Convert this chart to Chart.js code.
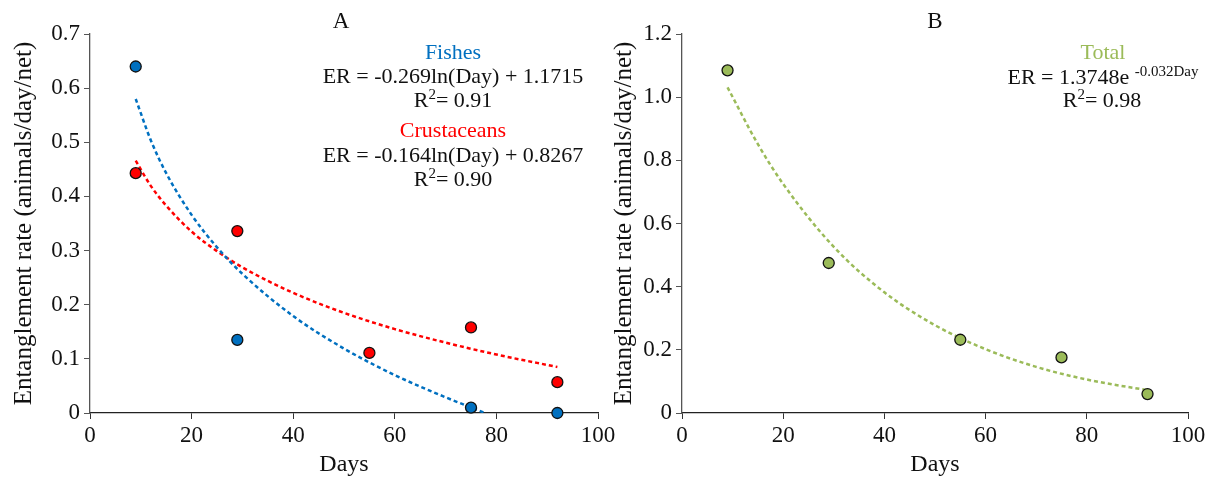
<!DOCTYPE html>
<html>
<head>
<meta charset="utf-8">
<script src="https://cdn.jsdelivr.net/npm/chart.js@4.4.1/dist/chart.umd.min.js"></script>
<style>
body{margin:0;background:#fff;width:1210px;height:479px;position:relative;overflow:hidden}
canvas{position:absolute;top:0}
#chartA{left:0}
#chartB{left:600px}
</style>
</head>
<body>
<canvas id="chartA" width="620" height="479"></canvas>
<canvas id="chartB" width="610" height="479"></canvas>
<script>
// sampled days and entanglement rates (animals/day/net)
var sampleDays = [9, 29, 55, 75, 92];
var fishDays = [9, 29, 75, 92];
var fishRate = [0.64, 0.135, 0.01, 0];
var crustRate = [0.443, 0.336, 0.111, 0.158, 0.057];
var totalRate = [1.085, 0.475, 0.232, 0.176, 0.06];

// fitted trend curves
var fishTrendDays = [9, 12, 15, 20, 25, 30, 40, 50, 60, 70, 77.5];
var fishTrend = [0.580, 0.503, 0.443, 0.366, 0.306, 0.257, 0.179, 0.119, 0.070, 0.029, 0.001];
var crustTrendDays = [9, 12, 15, 20, 25, 30, 40, 50, 60, 70, 80, 92];
var crustTrend = [0.466, 0.419, 0.383, 0.335, 0.299, 0.269, 0.222, 0.185, 0.155, 0.130, 0.108, 0.085];
var totalTrendDays = [9, 15, 20, 30, 40, 50, 60, 70, 80, 92];
var totalTrend = [1.031, 0.851, 0.725, 0.526, 0.382, 0.278, 0.202, 0.146, 0.106, 0.072];

var xTicks = [0, 20, 40, 60, 80, 100];
var yTicksA = [0, 0.1, 0.2, 0.3, 0.4, 0.5, 0.6, 0.7];
var yTicksB = [0, 0.2, 0.4, 0.6, 0.8, 1.0, 1.2];

const BLUE = "#0070C0", RED = "#FF0000", GREEN = "#9BBB59";
const FONT = "'Liberation Serif', 'Times New Roman', serif";

function toPts(xs, ys) {
    return xs.map((x, i) => ({x: x, y: ys[i]}));
}

function pointSet(xs, ys, color) {
    return {
        type: "scatter",
        data: toPts(xs, ys),
        backgroundColor: color,
        borderColor: "#111",
        borderWidth: 1.3,
        pointRadius: 5.5,
        clip: false,
        order: 0
    };
}

function trendSet(xs, ys, color) {
    return {
        type: "line",
        data: toPts(xs, ys),
        borderColor: color,
        borderWidth: 2.5,
        borderDash: [4, 3],
        pointRadius: 0,
        fill: false,
        cubicInterpolationMode: "monotone",
        order: 1
    };
}

// draws the panel letter and the equations as canvas text
const notesPlugin = {
    id: "notes",
    afterDraw(chart, args, opts) {
        var ctx = chart.ctx;
        ctx.save();
        ctx.textBaseline = "middle";
        ctx.textAlign = "left";
        opts.lines.forEach(l => {
            var total = 0;
            l.parts.forEach(p => {
                ctx.font = (p[1] ? Math.round(l.size * 0.66) : l.size) + "px " + FONT;
                total += ctx.measureText(p[0]).width;
            });
            var x = l.x - total / 2;
            l.parts.forEach(p => {
                ctx.font = (p[1] ? Math.round(l.size * 0.66) : l.size) + "px " + FONT;
                ctx.fillStyle = l.color;
                ctx.fillText(p[0], x, p[1] ? l.y - 6 : l.y);
                x += ctx.measureText(p[0]).width;
            });
        });
        ctx.restore();
    }
};

function tickFmt(v) {
    return v === 0 ? "0" : v.toFixed(1);
}

function makeChart(id, datasets, yMax, yWidth, notes) {
    return new Chart(id, {
        type: "scatter",
        data: {datasets: datasets},
        options: {
            responsive: false,
            animation: false,
            layout: {padding: {left: 0, right: 22, top: 34, bottom: 0}},
            plugins: {legend: {display: false}, tooltip: {enabled: false}, notes: {lines: notes}},
            scales: {
                x: {
                    type: "linear", min: 0, max: 100,
                    afterBuildTicks: s => { s.ticks = xTicks.map(v => ({value: v})); },
                    ticks: {font: {family: FONT, size: 23}, color: "#111", padding: 3},
                    grid: {drawOnChartArea: false, drawTicks: true, tickLength: 6, color: "#333"},
                    border: {color: "#222", width: 1.3},
                    title: {display: true, text: "Days", font: {family: FONT, size: 24}, color: "#111", padding: 0},
                    afterFit: s => { s.height = 66; }
                },
                y: {
                    min: 0, max: yMax,
                    afterBuildTicks: s => { s.ticks = (yMax > 1 ? yTicksB : yTicksA).map(v => ({value: v})); },
                    ticks: {font: {family: FONT, size: 23}, color: "#111", padding: 4, callback: tickFmt},
                    grid: {drawOnChartArea: false, drawTicks: true, tickLength: 6, color: "#555"},
                    border: {color: "#555", width: 1.3},
                    title: {display: true, text: "Entanglement rate (animals/day/net)", font: {family: FONT, size: 25}, color: "#111", padding: {top: 9, bottom: 0}},
                    afterFit: s => { s.width = yWidth; }
                }
            }
        },
        plugins: [notesPlugin]
    });
}

makeChart("chartA", [
    pointSet(fishDays, fishRate, BLUE),
    pointSet(sampleDays, crustRate, RED),
    trendSet(fishTrendDays, fishTrend, BLUE),
    trendSet(crustTrendDays, crustTrend, RED)
], 0.7, 90, [
    {x: 341, y: 22, size: 23, color: "#111", parts: [["A", false]]},
    {x: 453, y: 53, size: 22, color: BLUE, parts: [["Fishes", false]]},
    {x: 453, y: 77, size: 22, color: "#111", parts: [["ER = -0.269ln(Day) + 1.1715", false]]},
    {x: 453, y: 101, size: 22, color: "#111", parts: [["R", false], ["2", true], ["= 0.91", false]]},
    {x: 453, y: 131, size: 22, color: RED, parts: [["Crustaceans", false]]},
    {x: 453, y: 156, size: 22, color: "#111", parts: [["ER = -0.164ln(Day) + 0.8267", false]]},
    {x: 453, y: 180, size: 22, color: "#111", parts: [["R", false], ["2", true], ["= 0.90", false]]}
]);

makeChart("chartB", [
    pointSet(sampleDays, totalRate, GREEN),
    trendSet(totalTrendDays, totalTrend, GREEN)
], 1.2, 82, [
    {x: 335, y: 22, size: 23, color: "#111", parts: [["B", false]]},
    {x: 503, y: 53, size: 22, color: GREEN, parts: [["Total", false]]},
    {x: 503, y: 78, size: 22, color: "#111", parts: [["ER = 1.3748e ", false], ["-0.032Day", true]]},
    {x: 502, y: 101, size: 22, color: "#111", parts: [["R", false], ["2", true], ["= 0.98", false]]}
]);
</script>
</body>
</html>
